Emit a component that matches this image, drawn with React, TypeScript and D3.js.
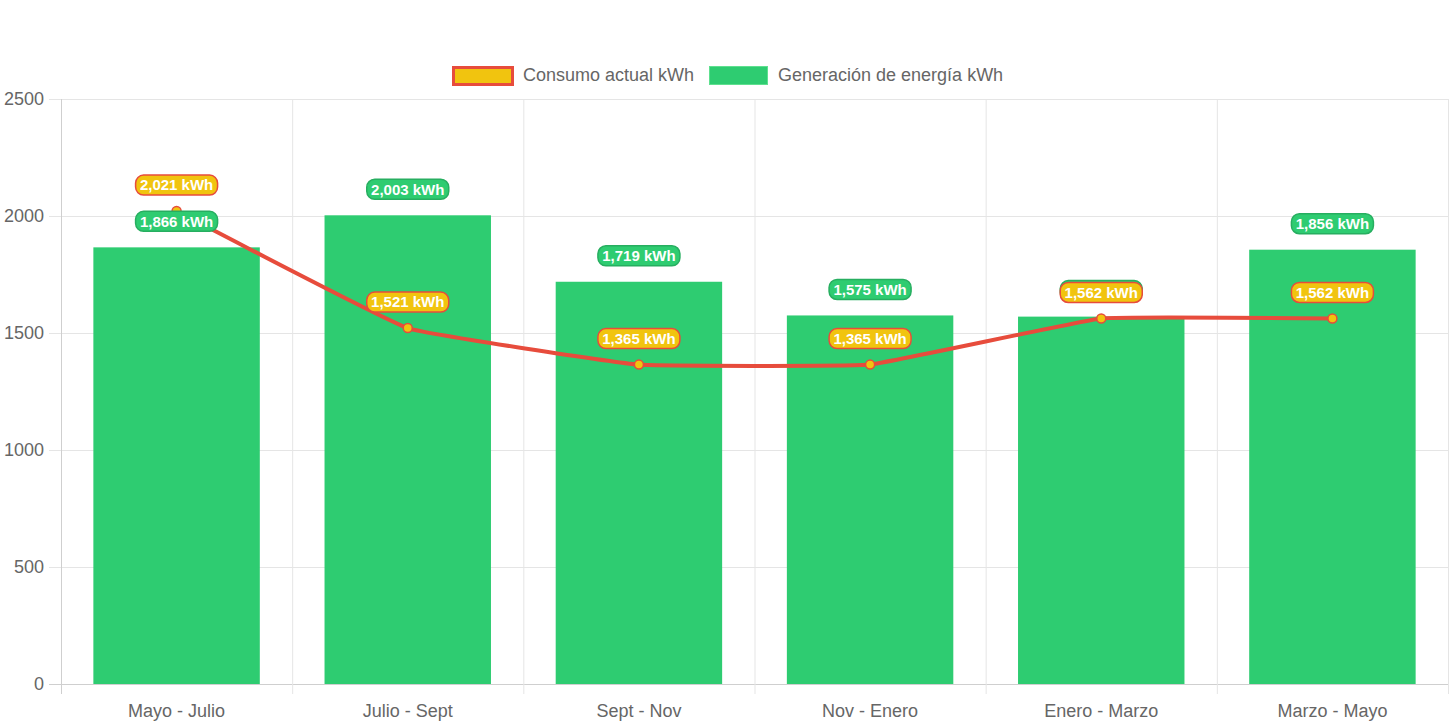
import React from "react";
import * as d3 from "d3";

const categories = ["Mayo - Julio", "Julio - Sept", "Sept - Nov", "Nov - Enero", "Enero - Marzo", "Marzo - Mayo"];
const consumo = [2021, 1521, 1365, 1365, 1562, 1562];
const generacion = [1866, 2003, 1719, 1575, 1570, 1856];
const yTicks = [0, 500, 1000, 1500, 2000, 2500];
const seriesNames = ["Consumo actual kWh", "Generación de energía kWh"];

const W = 1456, H = 727;
const left = 61, right = 1448, top = 99, bottom = 684;
const FONT = "'Liberation Sans', Arial, Helvetica, sans-serif";
const GREEN = "#2ecc71", GREEN_DARK = "#27ae60", YELLOW = "#f1c40f", RED = "#e74c3c";
const GRID = "#e5e5e5";

export default function App() {
  const x = d3.scaleBand<string>().domain(categories).range([left, right]).paddingInner(0).paddingOuter(0);
  const y = d3.scaleLinear().domain([0, 2500]).range([bottom, top]);
  const bw = x.bandwidth() * 0.72;
  const cx = (c: string) => (x(c) as number) + x.bandwidth() / 2;
  const fmt = (v: number) => d3.format(",")(v) + " kWh";
  const line = d3.line<number>().x((_, i) => cx(categories[i])).y((v) => y(v)).curve(d3.curveCardinal.tension(0.75));
  const boundaries = categories.map((c) => x(c) as number).concat([right]);
  const labelW = 82, labelH = 20, off = 26;

  const label = (c: string, v: number, bg: string, border: string, key: string) => {
    const lx = cx(c), ly = y(v) - off;
    return (
      <g key={key}>
        <rect x={lx - labelW / 2} y={ly - labelH / 2} width={labelW} height={labelH} rx={8} ry={8} fill={bg} stroke={border} strokeWidth={1.5} />
        <text x={lx} y={ly} dy="0.35em" textAnchor="middle" fill="#fff" fontWeight="bold" fontSize={15} fontFamily={FONT}>{fmt(v)}</text>
      </g>
    );
  };

  return (
    <svg width={W} height={H} style={{ position: "absolute", left: 0, top: 0, background: "#fff" }}>
      {/* legend */}
      <g fontFamily={FONT} fontSize={18} fill="#666">
        <rect x={453.5} y={67.5} width={59} height={17} fill={YELLOW} stroke={RED} strokeWidth={3} />
        <text x={523} y={75} dy="0.35em">{seriesNames[0]}</text>
        <rect x={709.5} y={66.5} width={58} height={18} fill={GREEN} stroke="#5ee08f" strokeWidth={1} />
        <text x={778} y={75} dy="0.35em">{seriesNames[1]}</text>
      </g>
      {/* grid */}
      {yTicks.map((t) => (
        <g key={"y" + t}>
          <line x1={49} x2={right} y1={y(t) + 0.5} y2={y(t) + 0.5} stroke={t === 0 ? "#cfcfcf" : GRID} strokeWidth={1} />
          <text x={44} y={y(t)} dy="0.35em" textAnchor="end" fontFamily={FONT} fontSize={18} fill="#666">{t}</text>
        </g>
      ))}
      {boundaries.map((b, i) => (
        <line key={"x" + i} x1={b + 0.5} x2={b + 0.5} y1={top} y2={bottom + 10} stroke={i === 0 ? "#cfcfcf" : GRID} strokeWidth={1} />
      ))}
      {categories.map((c) => (
        <text key={"xl" + c} x={cx(c)} y={711} dy="0.35em" textAnchor="middle" fontFamily={FONT} fontSize={18} fill="#666">{c}</text>
      ))}
      {/* bars */}
      {generacion.map((v, i) => (
        <rect key={"b" + i} x={cx(categories[i]) - bw / 2} y={y(v)} width={bw} height={bottom - y(v)} fill={GREEN} />
      ))}
      {/* line */}
      <path d={line(consumo) || ""} fill="none" stroke={RED} strokeWidth={4} />
      {consumo.map((v, i) => (
        <circle key={"p" + i} cx={cx(categories[i])} cy={y(v)} r={4.5} fill={YELLOW} stroke={RED} strokeWidth={1.5} />
      ))}
      {/* labels */}
      {generacion.map((v, i) => label(categories[i], v, GREEN, GREEN_DARK, "gl" + i))}
      {consumo.map((v, i) => label(categories[i], v, YELLOW, RED, "cl" + i))}
    </svg>
  );
}
